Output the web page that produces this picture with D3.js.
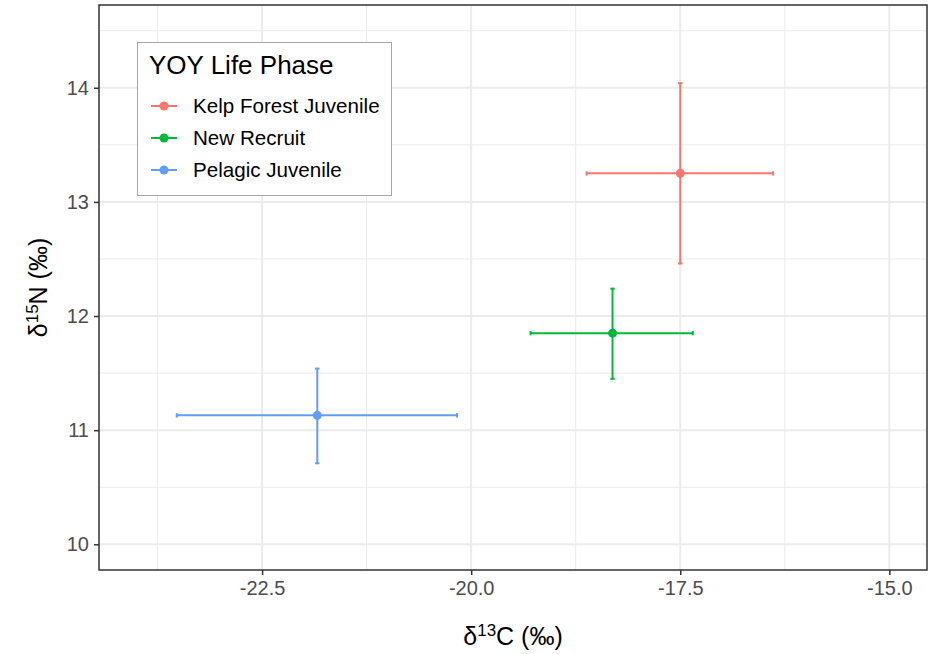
<!DOCTYPE html>
<html><head><meta charset="utf-8">
<script src="https://cdn.jsdelivr.net/npm/d3@7"></script>
<style>body{margin:0;background:#fff;} svg{display:block;font-family:"Liberation Sans",Arial,sans-serif;}</style>
</head><body>
<svg id="chart" width="929" height="654"></svg>
<script>
const phases = ["Kelp Forest Juvenile", "New Recruit", "Pelagic Juvenile"];
const colors = ["#F8766D", "#00BA38", "#619CFF"];
const d13C = [-17.50, -18.31, -21.84];
const d13CLow = [-18.62, -19.29, -23.52];
const d13CHigh = [-16.39, -17.35, -20.17];
const d15N = [13.25, 11.85, 11.13];
const d15NLow = [12.46, 11.45, 10.71];
const d15NHigh = [14.04, 12.24, 11.54];
const xTicks = [-22.5, -20.0, -17.5, -15.0];
const xMinor = [-23.75, -21.25, -18.75, -16.25];
const yTicks = [10, 11, 12, 13, 14];
const yMinor = [10.5, 11.5, 12.5, 13.5, 14.5];

const svg = d3.select("#chart");
const L = 99, R = 927, T = 5, B = 570;
const x = d3.scaleLinear().domain([-24.45, -14.55]).range([L, R]);
const y = d3.scaleLinear().domain([9.775, 14.725]).range([B, T]);

svg.append("rect").attr("x", L).attr("y", T).attr("width", R - L).attr("height", B - T).attr("fill", "#fff");

const grid = svg.append("g");
grid.selectAll(".xm").data(xMinor).join("line")
  .attr("x1", d => x(d)).attr("x2", d => x(d)).attr("y1", T).attr("y2", B)
  .attr("stroke", "#EBEBEB").attr("stroke-width", 1);
grid.selectAll(".ym").data(yMinor).join("line")
  .attr("y1", d => y(d)).attr("y2", d => y(d)).attr("x1", L).attr("x2", R)
  .attr("stroke", "#EBEBEB").attr("stroke-width", 1);
grid.selectAll(".xM").data(xTicks).join("line")
  .attr("x1", d => x(d)).attr("x2", d => x(d)).attr("y1", T).attr("y2", B)
  .attr("stroke", "#EBEBEB").attr("stroke-width", 2);
grid.selectAll(".yM").data(yTicks).join("line")
  .attr("y1", d => y(d)).attr("y2", d => y(d)).attr("x1", L).attr("x2", R)
  .attr("stroke", "#EBEBEB").attr("stroke-width", 2);

const xAxis = d3.axisBottom(x).tickValues(xTicks).tickFormat(d3.format(".1f")).tickSize(5).tickPadding(6);
const gx = svg.append("g").attr("transform", `translate(0,${B})`).call(xAxis);
const yAxis = d3.axisLeft(y).tickValues(yTicks).tickFormat(d3.format("d")).tickSize(5).tickPadding(5);
const gy = svg.append("g").attr("transform", `translate(${L},0)`).call(yAxis);
[gx, gy].forEach(g => {
  g.select(".domain").remove();
  g.selectAll(".tick line").attr("stroke", "#333333").attr("stroke-width", 1.5);
  g.selectAll(".tick text").attr("fill", "#4D4D4D").style("font-size", "20px")
    .style("font-family", '"Liberation Sans", Arial, sans-serif');
});
gx.selectAll(".tick text").text(d => d3.format(".1f")(d).replace("−", "-"));

const data = phases.map((p, i) => ({p, c: colors[i], x: d13C[i], xl: d13CLow[i], xh: d13CHigh[i], y: d15N[i], yl: d15NLow[i], yh: d15NHigh[i]}));
const marks = svg.append("g");
const cap = 2.2;
data.forEach(d => {
  const g = marks.append("g").attr("stroke", d.c).attr("stroke-width", 2).attr("fill", "none");
  g.append("line").attr("x1", x(d.xl)).attr("x2", x(d.xh)).attr("y1", y(d.y)).attr("y2", y(d.y));
  g.append("line").attr("x1", x(d.xl)).attr("x2", x(d.xl)).attr("y1", y(d.y) - cap).attr("y2", y(d.y) + cap);
  g.append("line").attr("x1", x(d.xh)).attr("x2", x(d.xh)).attr("y1", y(d.y) - cap).attr("y2", y(d.y) + cap);
  g.append("line").attr("x1", x(d.x)).attr("x2", x(d.x)).attr("y1", y(d.yl)).attr("y2", y(d.yh));
  g.append("line").attr("x1", x(d.x) - cap).attr("x2", x(d.x) + cap).attr("y1", y(d.yl)).attr("y2", y(d.yl));
  g.append("line").attr("x1", x(d.x) - cap).attr("x2", x(d.x) + cap).attr("y1", y(d.yh)).attr("y2", y(d.yh));
  marks.append("circle").attr("cx", x(d.x)).attr("cy", y(d.y)).attr("r", 4.5).attr("fill", d.c);
});

svg.append("rect").attr("x", L).attr("y", T).attr("width", R - L).attr("height", B - T)
  .attr("fill", "none").attr("stroke", "#333333").attr("stroke-width", 1.5);

const lg = svg.append("g");
lg.append("rect").attr("x", 137.5).attr("y", 42.5).attr("width", 254).attr("height", 153)
  .attr("fill", "#fff").attr("stroke", "#A6A6A6").attr("stroke-width", 1);
lg.append("text").attr("x", 149).attr("y", 74).attr("font-size", 26).attr("fill", "#000").text("YOY Life Phase");
phases.forEach((p, i) => {
  const cy = 106 + i * 32;
  lg.append("line").attr("x1", 151).attr("x2", 177).attr("y1", cy).attr("y2", cy).attr("stroke", colors[i]).attr("stroke-width", 2);
  lg.append("circle").attr("cx", 164).attr("cy", cy).attr("r", 4.5).attr("fill", colors[i]);
  lg.append("text").attr("x", 193).attr("y", cy + 7).attr("font-size", 20.6).attr("fill", "#000").text(p);
});

const xt = svg.append("text").attr("x", (L + R) / 2).attr("y", 645).attr("text-anchor", "middle")
  .attr("font-size", 25).attr("fill", "#000");
xt.append("tspan").text("δ");
xt.append("tspan").attr("dy", -9).attr("font-size", 17).text("13");
xt.append("tspan").attr("dy", 9).text("C (‰)");

const yt = svg.append("text").attr("transform", `translate(47,${(T + B) / 2}) rotate(-90)`).attr("text-anchor", "middle")
  .attr("font-size", 25).attr("fill", "#000");
yt.append("tspan").text("δ");
yt.append("tspan").attr("dy", -9).attr("font-size", 17).text("15");
yt.append("tspan").attr("dy", 9).text("N (‰)");
</script>
</body></html>
